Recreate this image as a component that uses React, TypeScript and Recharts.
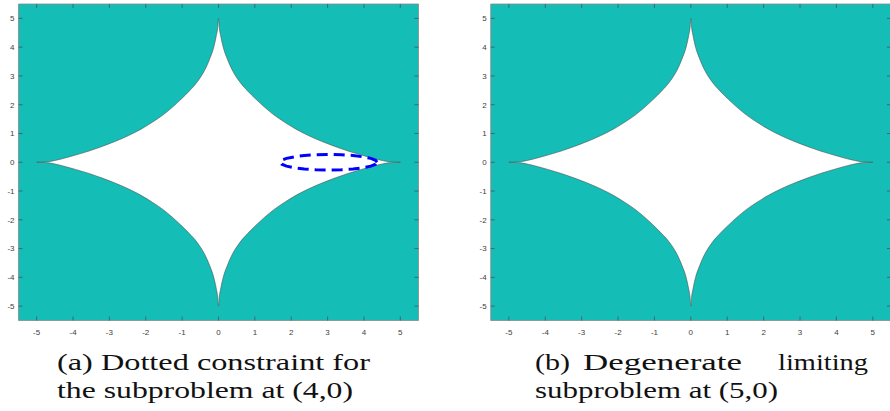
import { ComposedChart, Area, Scatter, XAxis, YAxis, CartesianGrid, ReferenceLine } from "recharts";

const TEAL = "#14bdb6";

const ticks = [-5, -4, -3, -2, -1, 0, 1, 2, 3, 4, 5];

// upper-right quarter of the white region
const boundaryX = [0, 0.02, 0.06, 0.13, 0.24, 0.38, 0.58, 0.8, 1.03, 1.27, 1.53, 1.82, 2.13, 2.47, 2.83, 3.2, 3.56, 3.93, 4.3, 4.5, 4.67, 4.8, 5];
const boundaryY = [5, 4.7, 4.4, 4.0, 3.6, 3.2, 2.8, 2.48, 2.19, 1.91, 1.64, 1.39, 1.15, 0.93, 0.73, 0.55, 0.39, 0.25, 0.12, 0.06, 0.02, 0.005, 0];

// dashed constraint in panel (a)
const ellipseX = [4.36, 4.32, 4.19, 3.97, 3.7, 3.38, 3.03, 2.68, 2.36, 2.09, 1.87, 1.74, 1.7, 1.74, 1.87, 2.09, 2.36, 2.68, 3.03, 3.38, 3.7, 3.97, 4.19, 4.32, 4.36];
const ellipseY = [0, 0.07, 0.135, 0.19, 0.235, 0.26, 0.27, 0.26, 0.235, 0.19, 0.135, 0.07, 0, -0.07, -0.135, -0.19, -0.235, -0.26, -0.27, -0.26, -0.235, -0.19, -0.135, -0.07, 0];

const captionA = ["(a) Dotted constraint for", "the subproblem at (4,0)"];
const captionB1 = ["(b)", "Degenerate", "limiting"];
const captionB2 = "subproblem at (5,0)";

const quarter = boundaryX.map((x, i) => ({ x, y: boundaryY[i] }));
const bandData = [
  ...quarter.slice().reverse().map((p) => ({ x: -p.x, band: [-p.y, p.y] })),
  ...quarter.slice(1).map((p) => ({ x: p.x, band: [-p.y, p.y] })),
];
const ellipseData = ellipseX.map((x, i) => ({ x, y: ellipseY[i] }));

const tickFont = { fontSize: 8, fill: "#404040", fontFamily: "Liberation Sans, Arial, sans-serif" };

function Panel({ width, yWidth, right, ellipse }: { width: number; yWidth: number; right: number; ellipse: boolean }) {
  const marks: any[] = [];
  ticks.forEach((t) => {
    marks.push([{ x: t, y: -5.5 }, { x: t, y: -5.36 }]);
    marks.push([{ x: t, y: 5.5 }, { x: t, y: 5.36 }]);
    marks.push([{ x: -5.5, y: t }, { x: -5.39, y: t }]);
    marks.push([{ x: 5.5, y: t }, { x: 5.39, y: t }]);
  });
  return (
    <ComposedChart width={width} height={345} data={bandData} margin={{ top: 4, right, left: 0, bottom: 10 }}>
      <CartesianGrid horizontal={false} vertical={false} fill={TEAL} fillOpacity={1} />
      <XAxis type="number" dataKey="x" domain={[-5.5, 5.5]} ticks={ticks} interval={0} allowDataOverflow
        tickLine={false} axisLine={false} tickSize={0} tickMargin={8.5} height={14.5} tick={tickFont} />
      <YAxis type="number" dataKey="y" domain={[-5.5, 5.5]} ticks={ticks} interval={0} allowDataOverflow
        tickLine={false} axisLine={false} tickSize={0} tickMargin={4} width={yWidth} tick={tickFont} />
      <Area dataKey="band" type="monotone" fill="#ffffff" fillOpacity={1} stroke="#555" strokeWidth={0.6}
        dot={false} activeDot={false} isAnimationActive={false} />
      {ellipse && (
        <Scatter data={ellipseData} dataKey="y" lineType="joint" shape={() => <g />}
          line={{ stroke: "#0000ff", strokeWidth: 3, strokeDasharray: "11 6" }} isAnimationActive={false} />
      )}
      <ReferenceLine x={-5.5} stroke="#8a8a8a" strokeWidth={0.8} />
      <ReferenceLine x={5.5} stroke="#8a8a8a" strokeWidth={0.8} />
      <ReferenceLine y={-5.5} stroke="#8a8a8a" strokeWidth={0.8} />
      <ReferenceLine y={5.5} stroke="#8a8a8a" strokeWidth={0.8} />
      {marks.map((seg, i) => (
        <ReferenceLine key={i} segment={seg} stroke="#4a4a4a" strokeWidth={0.7} />
      ))}
    </ComposedChart>
  );
}

export default function App() {
  const serif = { fontFamily: "Liberation Serif, Times New Roman, serif", fontSize: 23, fill: "#111" };
  return (
    <div style={{ position: "absolute", left: 0, top: 0, width: 890, height: 411, overflow: "hidden", background: "#fff" }}>
      <div style={{ position: "absolute", left: 0, top: 0 }}>
        <Panel width={425} yWidth={18.5} right={6.5} ellipse={true} />
      </div>
      <div style={{ position: "absolute", left: 470, top: 0 }}>
        <Panel width={421} yWidth={20.7} right={0} ellipse={false} />
      </div>
      <svg width={890} height={411} style={{ position: "absolute", left: 0, top: 0, pointerEvents: "none" }}>
        <text x={57} y={370} textLength={313} lengthAdjust="spacingAndGlyphs" {...serif}>{captionA[0]}</text>
        <text x={57} y={398} textLength={296} lengthAdjust="spacingAndGlyphs" {...serif}>{captionA[1]}</text>
        <text x={535} y={370} textLength={35} lengthAdjust="spacingAndGlyphs" {...serif}>{captionB1[0]}</text>
        <text x={583} y={370} textLength={159} lengthAdjust="spacingAndGlyphs" {...serif}>{captionB1[1]}</text>
        <text x={778} y={370} textLength={90} lengthAdjust="spacingAndGlyphs" {...serif}>{captionB1[2]}</text>
        <text x={535} y={398} textLength={243} lengthAdjust="spacingAndGlyphs" {...serif}>{captionB2}</text>
      </svg>
    </div>
  );
}
